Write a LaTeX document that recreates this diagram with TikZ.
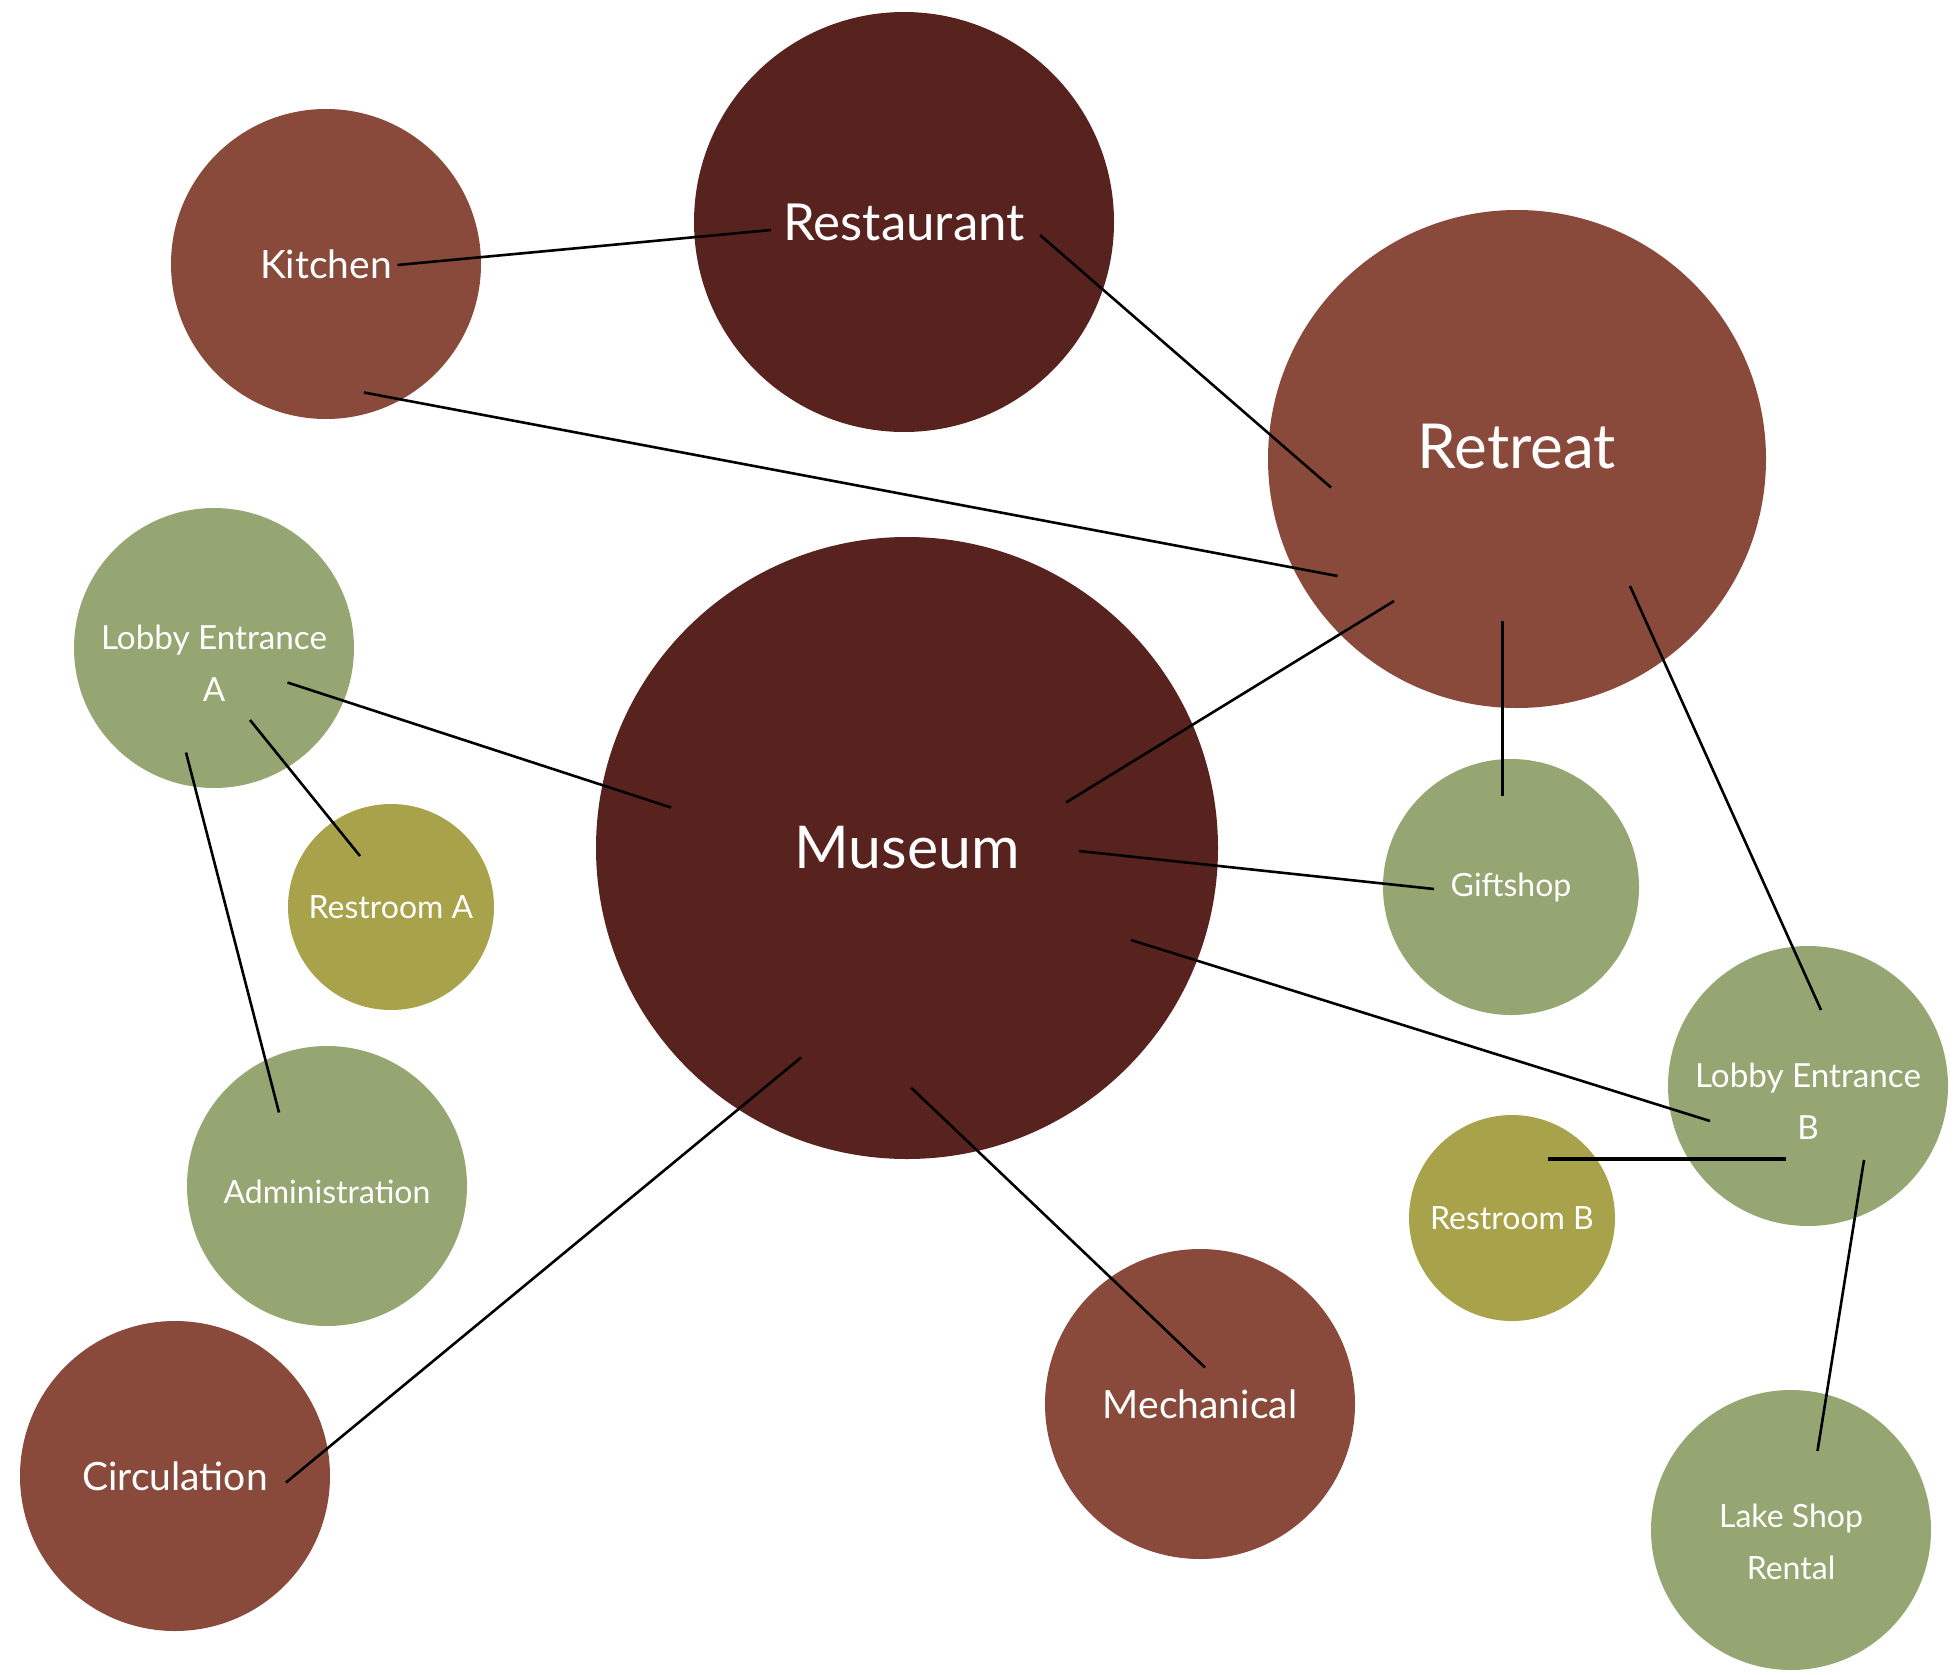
\documentclass[tikz,border=0pt]{standalone}
\usepackage{fontspec}
\setmainfont{Lato}
\definecolor{maroon}{HTML}{58231F}
\definecolor{rust}{HTML}{8A4A3B}
\definecolor{sage}{HTML}{96A672}
\definecolor{olive}{HTML}{A8A24A}
\tikzset{
  bubble/.style={circle, draw=none, inner sep=0pt, text=white, align=center},
  big/.style={font=\fontsize{25.5}{30}\selectfont},
  mid/.style={font=\fontsize{19.5}{24}\selectfont},
  small/.style={font=\fontsize{16}{26}\selectfont},
  lobby/.style={font=\fontsize{16.6}{26}\selectfont},
  lbl/.style={text=white, align=center, inner sep=0pt},
  link/.style={draw=black, line width=1.3pt},
  thicklink/.style={draw=black, line width=2pt}
}
\begin{document}
\begin{tikzpicture}[x=0.5pt,y=-0.5pt]
\useasboundingbox (0,0) rectangle (1959,1675);
% circles
\node[bubble, fill=rust, minimum size=155pt, mid] (kitchen) at (326,264) {Kitchen};
\node[bubble, fill=maroon, minimum size=210pt, big] (restaurant) at (904,222) {Restaurant};
\node[bubble, fill=rust, minimum size=249pt,
  label={[lbl, font=\fontsize{31}{34}\selectfont, yshift=6pt]center:Retreat}] (retreat) at (1517,459) {};
\node[bubble, fill=sage, minimum size=140pt,
  label={[lbl, lobby, yshift=-7.5pt]center:{Lobby Entrance\\A}}] (lobA) at (214,648) {};
\node[bubble, fill=maroon, minimum size=311pt, font=\fontsize{29.5}{34}\selectfont] (museum) at (907,848) {Museum};
\node[bubble, fill=olive, minimum size=103pt, small] (restA) at (391,907) {Restroom A};
\node[bubble, fill=sage, minimum size=128pt, small] (gift) at (1511,887) {Giftshop};
\node[bubble, fill=sage, minimum size=140pt,
  label={[lbl, small, yshift=-3pt]center:Administration}] (admin) at (327,1186) {};
\node[bubble, fill=sage, minimum size=140pt,
  label={[lbl, lobby, yshift=-7.5pt]center:{Lobby Entrance\\B}}] (lobB) at (1808,1086) {};
\node[bubble, fill=olive, minimum size=103pt, small] (restB) at (1512,1218) {Restroom B};
\node[bubble, fill=rust, minimum size=155pt, mid] (circ) at (175,1476) {Circulation};
\node[bubble, fill=rust, minimum size=155pt, mid] (mech) at (1200,1404) {Mechanical};
\node[bubble, fill=sage, minimum size=140pt,
  label={[lbl, small, yshift=-6pt]center:{Lake Shop\\Rental}}] (lake) at (1791,1530) {};
% connector end points
\coordinate (k1) at (397.5,265);   \coordinate (r1) at (771,230);
\coordinate (r2) at (1040,235);    \coordinate (t1) at (1331,487.5);
\coordinate (k2) at (364,392.5);   \coordinate (t2) at (1337.5,576);
\coordinate (t3) at (1394,601);    \coordinate (m1) at (1066,802.5);
\coordinate (t4) at (1502.5,621);  \coordinate (g1) at (1502.5,796);
\coordinate (t5) at (1630,586);    \coordinate (b1) at (1821,1010);
\coordinate (a1) at (287.5,682.5); \coordinate (m2) at (671,807.5);
\coordinate (a2) at (250,720);     \coordinate (ra1) at (360,856);
\coordinate (a3) at (186,752.5);   \coordinate (ad1) at (279,1112.5);
\coordinate (m3) at (1079,851);    \coordinate (g2) at (1434,889);
\coordinate (m4) at (1131,940);    \coordinate (b2) at (1710,1121);
\coordinate (rb1) at (1547.5,1159);\coordinate (b3) at (1786,1159);
\coordinate (b4) at (1864,1160);   \coordinate (l1) at (1817.5,1451);
\coordinate (m5) at (801,1057.5);  \coordinate (c1) at (286,1482.5);
\coordinate (m6) at (911,1087.5);  \coordinate (me1) at (1205,1367.5);
% connectors
\draw[link] (k1) -- (r1);
\draw[link] (r2) -- (t1);
\draw[link] (k2) -- (t2);
\draw[link] (t3) -- (m1);
\draw[link] (t4) -- (g1);
\draw[link] (t5) -- (b1);
\draw[link] (a1) -- (m2);
\draw[link] (a2) -- (ra1);
\draw[link] (a3) -- (ad1);
\draw[link] (m3) -- (g2);
\draw[link] (m4) -- (b2);
\draw[thicklink] (rb1) -- (b3);
\draw[link] (b4) -- (l1);
\draw[link] (m5) -- (c1);
\draw[link] (m6) -- (me1);
\end{tikzpicture}
\end{document}
